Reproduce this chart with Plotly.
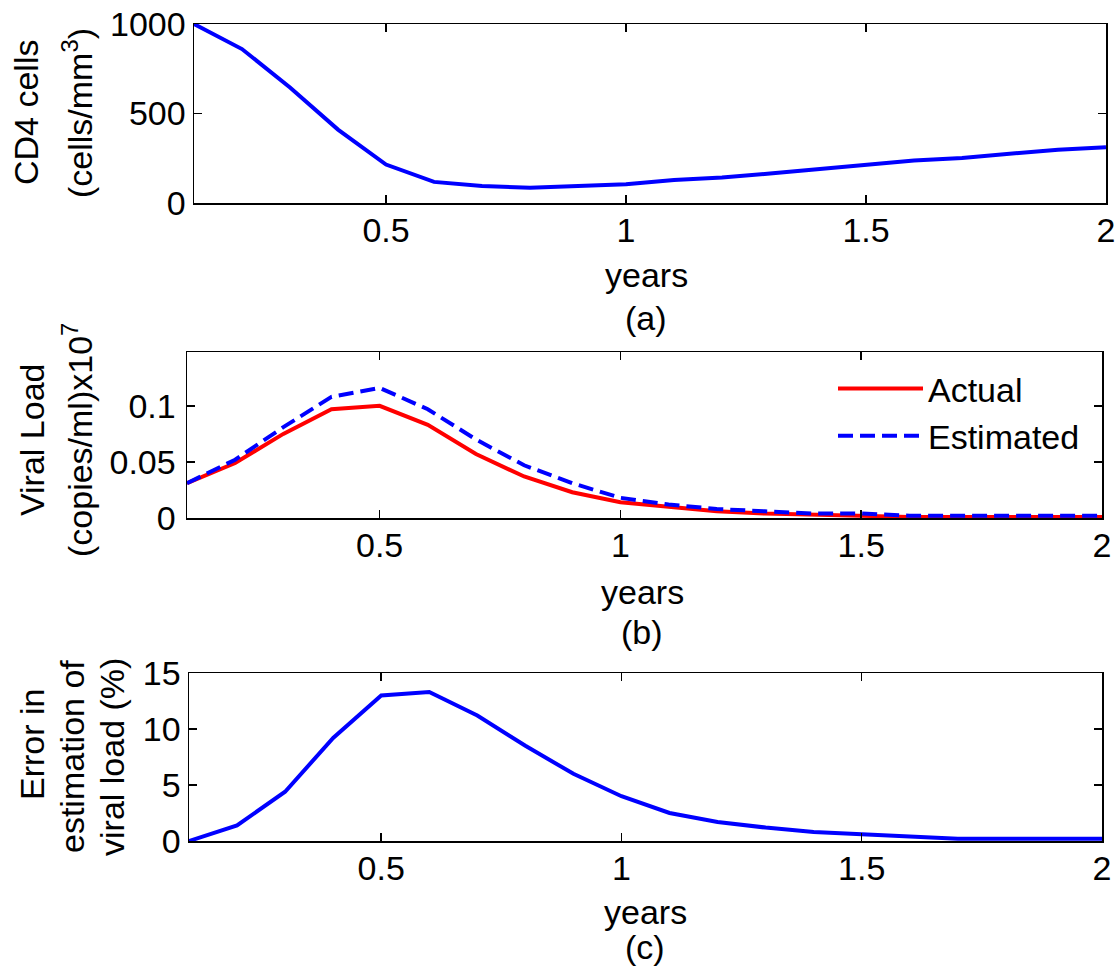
import plotly.graph_objects as go

# ---------------- data ----------------
years = [0.1, 0.2, 0.3, 0.4, 0.5, 0.6, 0.7, 0.8, 0.9, 1.0,
         1.1, 1.2, 1.3, 1.4, 1.5, 1.6, 1.7, 1.8, 1.9, 2.0]

cd4_cells = [1000, 860, 645, 410, 215, 118, 95, 85, 95, 105,
             128, 142, 165, 190, 215, 238, 252, 275, 298, 312]

viral_actual = [0.031, 0.049, 0.075, 0.097, 0.100, 0.083, 0.057, 0.037, 0.023, 0.014,
                0.010, 0.006, 0.004, 0.003, 0.002, 0.001, 0.001, 0.001, 0.001, 0.001]

viral_estimated = [0.031, 0.052, 0.081, 0.108, 0.116, 0.097, 0.070, 0.047, 0.031, 0.018,
                   0.012, 0.008, 0.006, 0.004, 0.004, 0.002, 0.002, 0.002, 0.002, 0.002]

error_pct = [0.0, 1.4, 4.4, 9.2, 13.0, 13.3, 11.2, 8.5, 6.0, 4.0,
             2.5, 1.7, 1.2, 0.8, 0.6, 0.4, 0.2, 0.2, 0.2, 0.2]

x_ticks = [0.5, 1, 1.5, 2]
y_ticks_a = [0, 500, 1000]
y_ticks_b = [0, 0.05, 0.1]
y_ticks_c = [0, 5, 10, 15]

# ---------------- layout helpers ----------------
W, H = 1117, 968
FONT = "Liberation Sans, Arial, sans-serif"
FS = 34
BLUE = "#0000FF"
RED = "#FF0000"


def px(xp):
    return xp / W


def py(yp):
    return 1 - yp / H


def dx(a, b):
    return [px(a), px(b)]


def dy(top, bottom):
    return [py(bottom), py(top)]


fig = go.Figure()

fig.add_trace(go.Scatter(x=years, y=cd4_cells, mode="lines",
                         line=dict(color=BLUE, width=4),
                         showlegend=False, xaxis="x", yaxis="y"))
fig.add_trace(go.Scatter(x=years, y=viral_actual, mode="lines", name="Actual",
                         line=dict(color=RED, width=4),
                         xaxis="x2", yaxis="y2"))
fig.add_trace(go.Scatter(x=years, y=viral_estimated, mode="lines", name="Estimated",
                         line=dict(color=BLUE, width=4, dash="15px,7px"),
                         xaxis="x2", yaxis="y2"))
fig.add_trace(go.Scatter(x=years, y=error_pct, mode="lines",
                         line=dict(color=BLUE, width=4),
                         showlegend=False, xaxis="x3", yaxis="y3"))

common = dict(showgrid=False, zeroline=False, showline=True, linecolor="black",
              linewidth=1.5, mirror="ticks", ticks="inside", ticklen=8,
              tickcolor="black", tickwidth=1.5, automargin=False,
              ticklabeloverflow="allow",
              tickfont=dict(family=FONT, size=FS, color="black"))

fig.update_layout(
    template="none",
    width=W, height=H,
    margin=dict(l=0, r=0, t=0, b=0, pad=0),
    paper_bgcolor="white", plot_bgcolor="white",
    font=dict(family=FONT, size=FS, color="black"),
    xaxis=dict(domain=dx(194, 1106), anchor="y", range=[0.1, 2],
               tickvals=x_ticks, ticklabelstandoff=-3, **common),
    yaxis=dict(domain=dy(24, 203), anchor="x", range=[0, 1000],
               tickvals=y_ticks_a, ticklabelstandoff=0, **common),
    xaxis2=dict(domain=dx(187, 1102), anchor="y2", range=[0.1, 2],
                tickvals=x_ticks, ticklabelstandoff=-3, **common),
    yaxis2=dict(domain=dy(352, 518), anchor="x2", range=[0, 0.148],
                tickvals=y_ticks_b, ticklabelstandoff=3, **common),
    xaxis3=dict(domain=dx(189, 1102), anchor="y3", range=[0.1, 2],
                tickvals=x_ticks, ticklabelstandoff=-3, **common),
    yaxis3=dict(domain=dy(673, 841), anchor="x3", range=[0, 15],
                tickvals=y_ticks_c, ticklabelstandoff=0, **common),
    legend=dict(x=px(833), y=py(360), xanchor="left", yanchor="top",
                bgcolor="rgba(0,0,0,0)", borderwidth=0,
                font=dict(family=FONT, size=FS, color="black"),
                itemwidth=85, tracegroupgap=0),
    showlegend=True,
)

annotations = []


def ann(text, xc, yc, angle=0):
    annotations.append(dict(text=text, x=px(xc), y=py(yc), xref="paper", yref="paper",
                            xanchor="center", yanchor="middle", showarrow=False,
                            textangle=angle,
                            font=dict(family=FONT, size=FS, color="black")))


# x titles
ann("years", 646, 275)
ann("(a)", 646, 318)
ann("years", 642, 592)
ann("(b)", 642, 632)
ann("years", 645, 912)
ann("(c)", 645, 947)

# y titles
ann("CD4 cells", 26, 113, -90)
ann("(cells/mm<sup>3</sup>)", 77, 113, -90)
ann("Viral Load", 32, 440, -90)
ann("(copies/ml)x10<sup>7</sup>", 77, 440, -90)
ann("Error in", 32, 745, -90)
ann("estimation of", 72, 757, -90)
ann("viral load (%)", 112, 757, -90)

fig.update_layout(annotations=annotations)

fig.write_html("out.html",
               config={"displayModeBar": False, "staticPlot": True},
               post_script="document.body.style.margin='0px';"
                           "document.body.style.overflow='hidden';")
